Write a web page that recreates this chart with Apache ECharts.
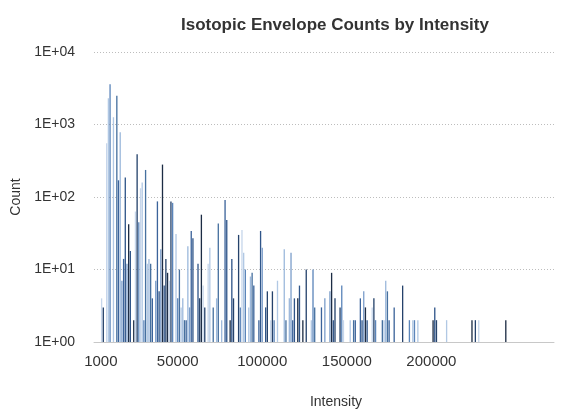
<!DOCTYPE html>
<html>
<head>
<meta charset="utf-8">
<script src="https://cdn.jsdelivr.net/npm/echarts@6/dist/echarts.min.js"></script>
<style>
html,body{margin:0;padding:0;background:#fff;}
#chart{width:568px;height:414px;}
</style>
</head>
<body>
<div id="chart"></div>
<script>
// Intensity bins (1000 wide) – category labels
const binCount = 272;
const intensityBins = [];
for (let i = 0; i < binCount; i++) intensityBins.push(String(1000 * (i + 1)));

// Labels shown on the x axis
const xTickLabels = ['1000', '50000', '100000', '150000', '200000'];

// Counts per bin, keyed by bin index (missing bins have no envelopes)
const countsByBin = {
  4:4, 5:3, 7:550, 8:2300, 9:3600, 11:1260, 13:2500, 14:170, 15:780,
  16:7, 17:14, 18:186, 19:12, 20:42, 21:18, 23:2, 24:63, 25:390, 26:45,
  27:132, 28:158, 29:2, 30:236, 31:12, 32:14, 33:12, 34:4, 36:7, 37:87,
  38:5, 39:19, 40:280, 41:6, 42:14, 43:9, 44:7, 45:87, 46:83, 48:31,
  49:4, 50:10, 51:3, 52:4, 53:2, 54:2, 55:21, 56:3, 57:34, 58:27,
  61:12, 62:4, 63:57, 64:6, 65:3, 67:12, 68:20, 70:3, 72:4, 73:43,
  75:2, 77:91, 78:48, 80:2, 81:14, 82:4, 85:30, 86:3, 87:35, 88:17,
  89:10, 91:3, 92:8, 93:9, 94:6, 97:2, 98:34, 99:20, 101:3, 102:5,
  104:2, 105:5, 106:2, 108:7, 112:19, 113:2, 115:4, 116:17, 117:2, 118:4,
  120:4, 121:6, 123:2, 125:10, 128:2, 129:10, 130:3, 134:3, 136:4,
  139:5, 140:9, 141:2, 142:4, 145:3, 146:6, 147:2, 151:2, 153:2, 154:2,
  157:4, 158:2, 159:5, 160:3, 161:2, 164:3, 165:4, 166:2, 170:2, 171:2,
  172:7, 173:5, 174:2, 177:3, 182:6, 186:2, 188:2, 189:2, 191:2,
  200:2, 201:3, 202:2, 208:2, 223:2, 225:2, 227:2, 243:2
};

const counts = intensityBins.map((_, i) => (countsByBin[i] !== undefined ? countsByBin[i] : '-'));

// Blue shades used for the bars
const shades = ['#1c2c44', '#5b85ba', '#9db9dc', '#2f5589', '#c6d6eb', '#46709f', '#7d9fcb', '#25426b', '#b1c8e4', '#3b639a'];

const chart = echarts.init(document.getElementById('chart'), null, {renderer: 'canvas'});
const FONT = '"Liberation Sans", Arial, Helvetica, sans-serif';

chart.setOption({
  animation: false,
  backgroundColor: '#ffffff',
  title: {
    text: 'Isotopic Envelope Counts by Intensity',
    left: 176,
    top: 12,
    textStyle: {fontFamily: FONT, fontSize: 17, fontWeight: 'bold', color: '#333'}
  },
  grid: {left: 94, right: 14, top: 52, bottom: 60, containLabel: false},
  xAxis: {
    type: 'category',
    data: intensityBins,
    name: 'Intensity',
    nameLocation: 'middle',
    nameGap: 53,
    nameTextStyle: {fontFamily: FONT, fontSize: 14, color: '#333', padding: [0, 0, 0, 24]},
    axisLine: {lineStyle: {color: '#c8c8c8', width: 1}},
    axisTick: {show: false},
    axisLabel: {
      interval: (i, v) => xTickLabels.indexOf(v) !== -1,
      formatter: v => (v === xTickLabels[0] ? '{first|' + v + '}' : v),
      rich: {first: {fontFamily: FONT, fontSize: 15, color: '#333', padding: [0, 0, 0, 12]}},
      fontFamily: FONT, fontSize: 15, color: '#333', margin: 12
    },
    splitLine: {show: false}
  },
  yAxis: {
    type: 'log',
    logBase: 10,
    min: 1,
    max: 10000,
    name: 'Count',
    nameLocation: 'middle',
    nameGap: 71,
    nameTextStyle: {fontFamily: FONT, fontSize: 14, color: '#333'},
    axisLine: {show: false},
    axisTick: {show: false},
    axisLabel: {
      fontFamily: FONT, fontSize: 14, color: '#333', margin: 19,
      formatter: v => '1E+' + String(Math.round(Math.log10(v))).padStart(2, '0')
    },
    splitLine: {lineStyle: {color: '#bdbdbd', type: [1, 2], width: 1}}
  },
  series: [{
    type: 'bar',
    data: counts,
    barCategoryGap: '22%',
    itemStyle: {
      color: p => shades[(p.dataIndex * 3 + (p.dataIndex >> 1)) % shades.length]
    }
  }]
});
</script>
</body>
</html>
